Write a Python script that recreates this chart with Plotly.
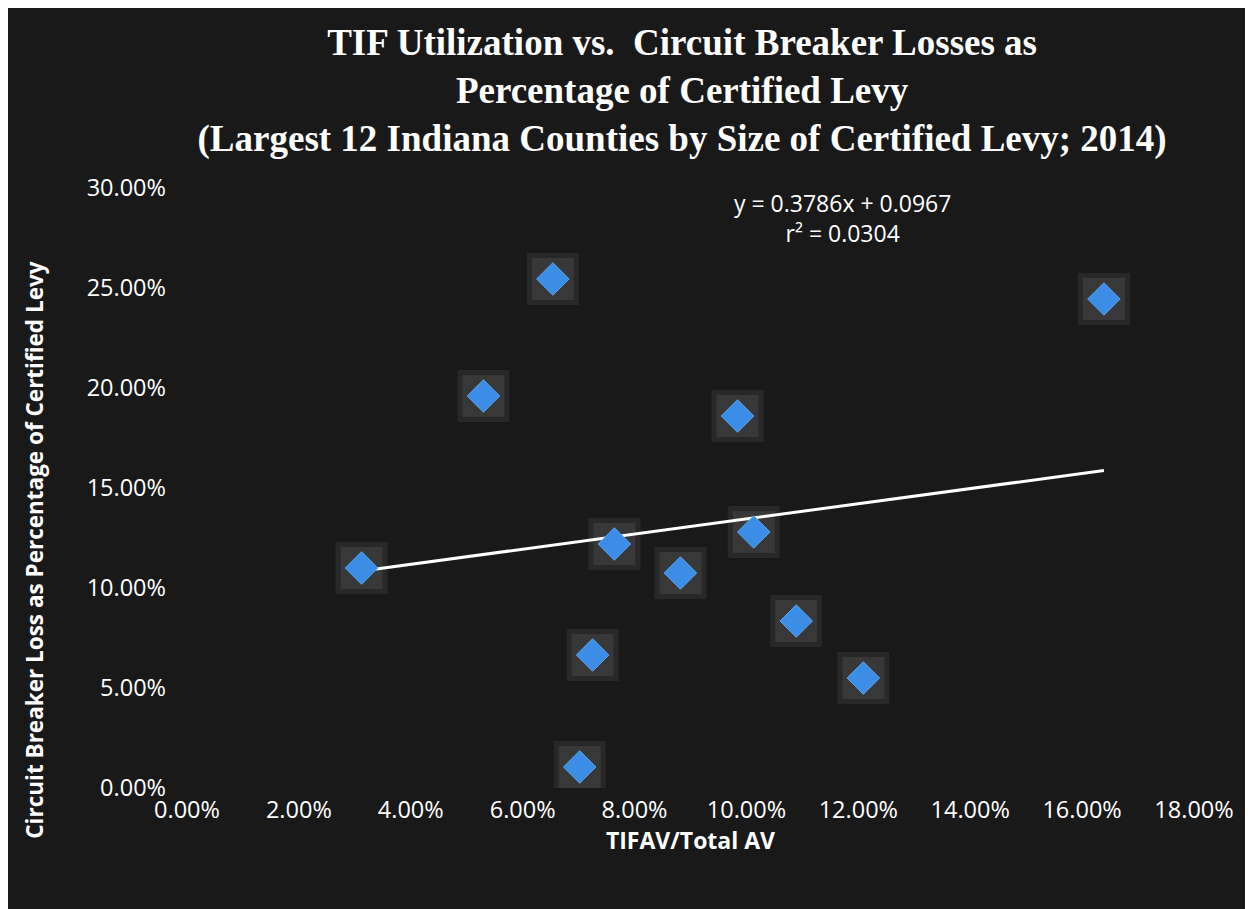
import numpy as np
import plotly.graph_objects as go

# TIFAV / Total AV (x) and Circuit Breaker loss as % of certified levy (y)
tif_share = [0.0312, 0.0530, 0.0654, 0.0702, 0.0725, 0.0764,
             0.0882, 0.0984, 0.1013, 0.1089, 0.1209, 0.1639]
cb_loss = [0.1100, 0.1960, 0.2545, 0.0105, 0.0665, 0.1220,
           0.1075, 0.1860, 0.1280, 0.0835, 0.0550, 0.2445]

# Linear trendline as shown on the chart
slope, intercept = 0.3786, 0.0967
r_squared = 0.0304

x_ticks = [0.0, 0.02, 0.04, 0.06, 0.08, 0.10, 0.12, 0.14, 0.16, 0.18]
y_ticks = [0.0, 0.05, 0.10, 0.15, 0.20, 0.25, 0.30]

BG = "#191919"
BLUE = "#3b8de6"
TEXT = "#ffffff"

fig = go.Figure()

# soft dark square "glow" behind each marker (two layers for a fade)
for size, col in ((52, "rgba(70,70,70,0.35)"), (42, "rgba(85,85,85,0.35)")):
    fig.add_trace(go.Scatter(
        x=tif_share, y=cb_loss, mode="markers",
        marker=dict(symbol="square", size=size, color=col, line=dict(width=0)),
        hoverinfo="skip", showlegend=False,
    ))

trend_x = np.array([min(tif_share), max(tif_share)])
fig.add_trace(go.Scatter(
    x=trend_x, y=slope * trend_x + intercept, mode="lines",
    line=dict(color="#ffffff", width=3),
    hoverinfo="skip", showlegend=False,
))

fig.add_trace(go.Scatter(
    x=tif_share, y=cb_loss, mode="markers",
    marker=dict(symbol="diamond", size=25, color=BLUE,
                line=dict(color="#5aa6f2", width=1)),
    hovertemplate="%{x:.2%}, %{y:.2%}<extra></extra>",
    showlegend=False,
))

fig.update_layout(
    width=1253, height=909,
    paper_bgcolor=BG, plot_bgcolor=BG,
    margin=dict(l=179, r=67, t=180, b=129),
    font=dict(family="Open Sans, sans-serif", color=TEXT, size=23),
    title=dict(
        text="TIF Utilization vs.  Circuit Breaker Losses as<br>"
             "Percentage of Certified Levy<br>"
             "(Largest 12 Indiana Counties by Size of Certified Levy; 2014)",
        x=0.538, xanchor="center", y=0.948, yanchor="top",
        font=dict(family="Liberation Serif, serif", size=37, color=TEXT,
                  weight="bold"),
    ),
    xaxis=dict(
        range=[0, 0.18], tickvals=x_ticks, tickformat=".2%",
        showgrid=False, zeroline=False, showline=False,
        ticks="", color=TEXT,
        tickfont=dict(size=23.5), ticklabelstandoff=5,
        title=dict(text="<b>TIFAV/Total AV</b>", font=dict(size=23), standoff=6),
    ),
    yaxis=dict(
        range=[0, 0.30], tickvals=y_ticks, tickformat=".2%",
        showgrid=False, zeroline=False, showline=False,
        ticks="", color=TEXT,
        tickfont=dict(size=23.5), ticklabelstandoff=20,
    ),
    annotations=[
        dict(
            text=f"y = {slope}x + {intercept}<br>r² = {r_squared}",
            x=0.1171, y=0.285, xref="x", yref="y", showarrow=False,
            font=dict(size=23, color=TEXT), align="center",
        ),
        dict(
            text="<b>Circuit Breaker Loss as Percentage of Certified Levy</b>",
            x=-0.151, y=0.397, xref="paper", yref="paper",
            xanchor="center", yanchor="middle", textangle=-90,
            showarrow=False, font=dict(size=22.5, color=TEXT),
        ),
    ],
)

fig.write_html("out.html")
